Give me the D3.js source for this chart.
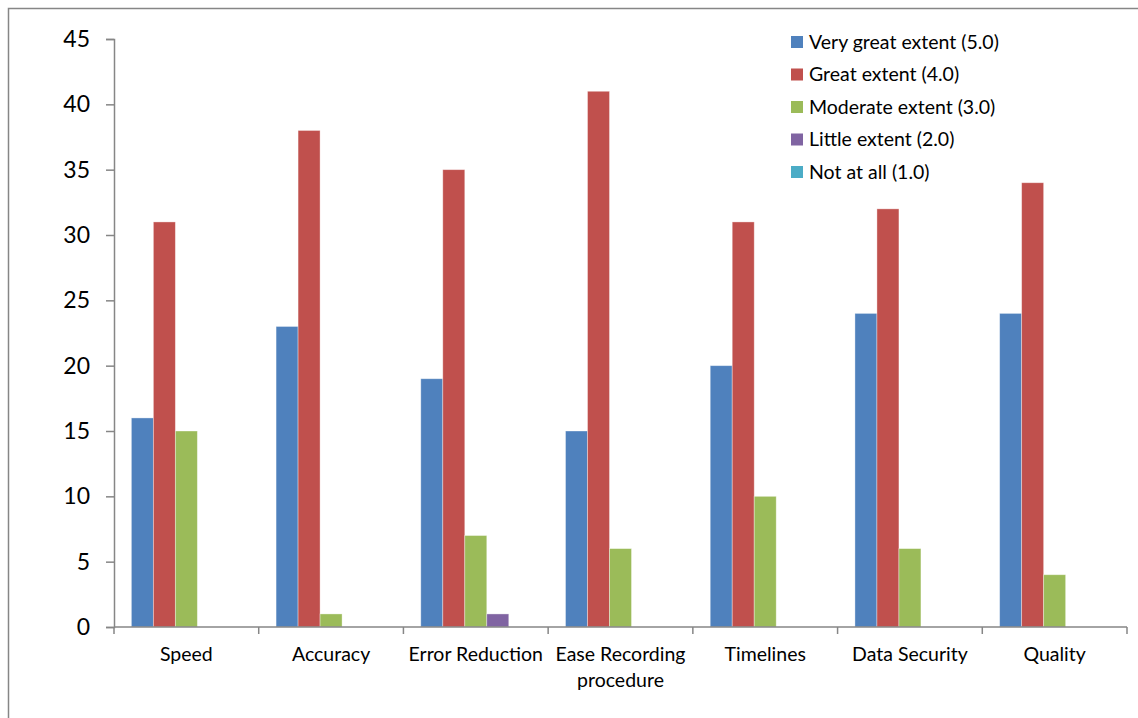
<!doctype html>
<html lang="en">
  <head>
    <meta charset="UTF-8" />
    <title>Extent bar chart</title>
    <script src="https://unpkg.com/d3@7.9.0/dist/d3.min.js"></script>
    <style>
      body {
        margin: 0;
        background: #fff;
        font-family: Lato, 'Open Sans', sans-serif;
      }
      svg {
        display: block;
      }
      svg text {
        font-family: Lato, 'Open Sans', sans-serif;
      }
      .axis path,
      .axis line {
        stroke: #868686;
        stroke-width: 1.5px;
      }
    </style>
  </head>
  <body>
    <div id="chart"></div>
    <script>
      const categories = [
        'Speed',
        'Accuracy',
        'Error Reduction',
        'Ease Recording procedure',
        'Timelines',
        'Data Security',
        'Quality',
      ];
      const seriesNames = [
        'Very great extent (5.0)',
        'Great extent (4.0)',
        'Moderate extent (3.0)',
        'Little extent (2.0)',
        'Not at all (1.0)',
      ];
      const colors = ['#4F81BD', '#C0504D', '#9BBB59', '#8064A2', '#4BACC6'];

      // one array per series, in category order
      const veryGreat = [16, 23, 19, 15, 20, 24, 24];
      const great = [31, 38, 35, 41, 31, 32, 34];
      const moderate = [15, 1, 7, 6, 10, 6, 4];
      const little = [0, 0, 1, 0, 0, 0, 0];
      const notAtAll = [0, 0, 0, 0, 0, 0, 0];
      const series = [veryGreat, great, moderate, little, notAtAll];

      const yTicks = [0, 5, 10, 15, 20, 25, 30, 35, 40, 45];

      const W = 1138,
        H = 718;
      const margin = { top: 39, right: 11, bottom: 91, left: 114 };
      const width = W - margin.left - margin.right;
      const height = H - margin.top - margin.bottom;

      const svg = d3
        .select('#chart')
        .append('svg')
        .attr('width', W)
        .attr('height', H);

      // outer frame
      svg
        .append('path')
        .attr('d', `M8.5,${H + 5}V8.5H${W + 5}`)
        .attr('fill', 'none')
        .attr('stroke', '#868686')
        .attr('stroke-width', 1.5);

      const g = svg
        .append('g')
        .attr('transform', `translate(${margin.left},${margin.top})`);

      const x0 = d3.scaleBand().domain(categories).range([0, width]).paddingInner(0.24).paddingOuter(0.12);
      const x1 = d3
        .scaleBand()
        .domain(d3.range(series.length))
        .range([0, x0.bandwidth()]);
      const y = d3.scaleLinear().domain([0, 45]).range([height, 0]);

      // bars
      categories.forEach((cat, ci) => {
        const grp = g.append('g').attr('transform', `translate(${x0(cat)},0)`);
        series.forEach((vals, si) => {
          if (!vals[ci]) return;
          grp
            .append('rect')
            .attr('x', x1(si))
            .attr('width', x1.bandwidth())
            .attr('y', y(vals[ci]))
            .attr('height', y(0) - y(vals[ci]))
            .attr('fill', colors[si])
            .attr('stroke', 'rgba(255,255,255,0.45)')
            .attr('stroke-width', 0.8);
        });
      });

      // y axis
      const yAxis = g
        .append('g')
        .attr('class', 'axis')
        .call(d3.axisLeft(y).tickValues(yTicks).tickSize(8).tickSizeOuter(8).tickPadding(16));
      yAxis.attr('font-family', null);
      yAxis.selectAll('text').style('font-size', '23px').attr('fill', '#000');

      // x axis with ticks at category boundaries
      const xAxis = g.append('g').attr('class', 'axis').attr('transform', `translate(0,${height})`);
      xAxis
        .append('line')
        .attr('x1', 0)
        .attr('x2', width)
        .attr('stroke', '#868686');
      const step = width / categories.length;
      d3.range(categories.length + 1).forEach((i) => {
        xAxis
          .append('line')
          .attr('x1', i * step)
          .attr('x2', i * step)
          .attr('y1', 0)
          .attr('y2', 7);
      });
      categories.forEach((cat, i) => {
        const t = xAxis
          .append('text')
          .attr('x', i * step + step / 2)
          .attr('y', 34)
          .attr('text-anchor', 'middle')
          .style('font-size', '19.5px')
          .attr('fill', '#000');
        const lines = cat === 'Ease Recording procedure' ? ['Ease Recording', 'procedure'] : [cat];
        lines.forEach((ln, li) => {
          t.append('tspan')
            .attr('x', i * step + step / 2)
            .attr('dy', li ? 26 : 0)
            .text(ln);
        });
      });

      // legend
      const legend = svg.append('g').attr('transform', 'translate(791,42)');
      seriesNames.forEach((name, i) => {
        const row = legend.append('g').attr('transform', `translate(0,${i * 32.5})`);
        row.append('rect').attr('x', 0).attr('y', -6).attr('width', 12).attr('height', 12).attr('fill', colors[i]);
        row
          .append('text')
          .attr('x', 18)
          .attr('y', 0)
          .attr('dy', '0.35em')
          .style('font-size', '19.5px')
          .attr('fill', '#000')
          .text(name);
      });
    </script>
  </body>
</html>
